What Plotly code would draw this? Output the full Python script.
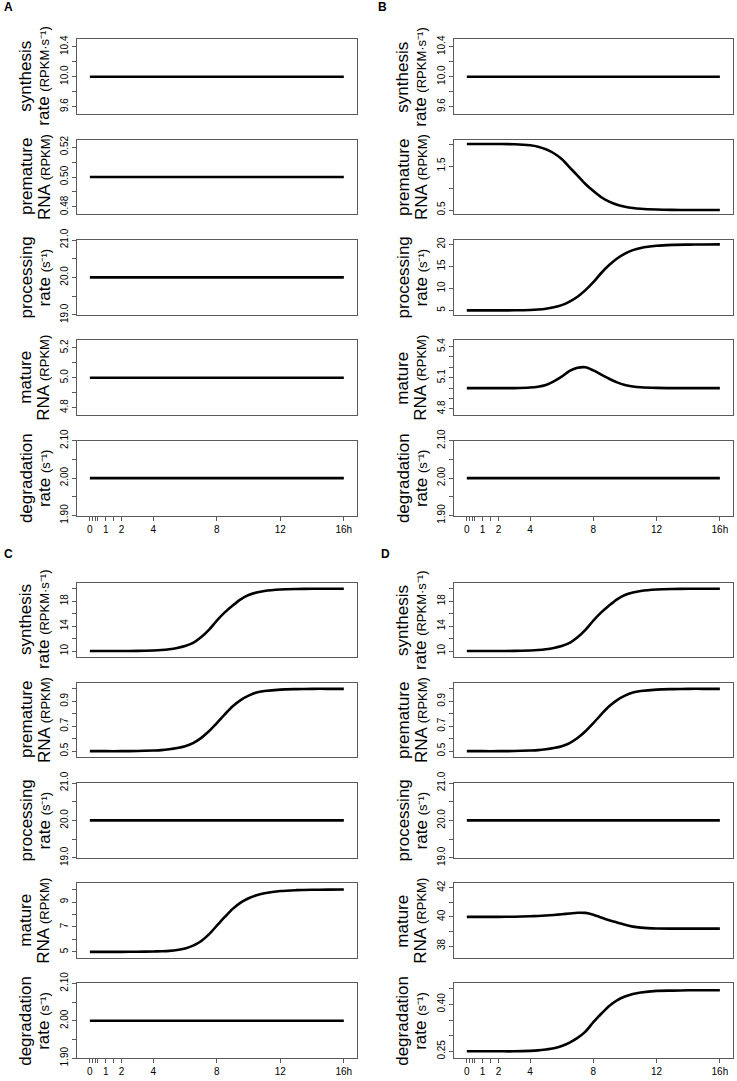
import plotly.graph_objects as go

# ---------------- data ----------------
T = [0, 1, 2, 3, 4, 4.5, 5, 5.5, 6, 6.5, 7, 7.5, 8, 8.5, 9, 9.5, 10, 10.5, 11, 12, 13, 14, 15, 16]
T_CONST = [0, 16]

synth_const = [10.0, 10.0]
premature_const = [0.5, 0.5]
processing_const = [20.0, 20.0]
mature_const = [5.0, 5.0]
degradation_const = [2.0, 2.0]

b_premature = [2.0, 2.0, 2.0, 1.995, 1.97, 1.94, 1.88, 1.79, 1.66, 1.47, 1.28, 1.09, 0.93, 0.79,
               0.69, 0.62, 0.575, 0.545, 0.527, 0.51, 0.503, 0.501, 0.5, 0.5]
b_processing = [5.0, 5.0, 5.0, 5.02, 5.1, 5.2, 5.38, 5.7, 6.2, 7.0, 8.1, 9.6, 11.4, 13.5,
                15.3, 16.8, 17.9, 18.7, 19.2, 19.7, 19.9, 19.96, 19.99, 20.0]
b_mature = [5.0, 5.0, 5.0, 5.0, 5.005, 5.013, 5.03, 5.065, 5.11, 5.165, 5.195, 5.2, 5.17, 5.13,
            5.09, 5.055, 5.03, 5.016, 5.008, 5.002, 5.0, 5.0, 5.0, 5.0]

cd_synthesis = [10.0, 10.0, 10.01, 10.03, 10.1, 10.17, 10.3, 10.5, 10.8, 11.3, 12.2, 13.4, 14.9, 16.2,
                17.3, 18.3, 19.0, 19.4, 19.65, 19.88, 19.96, 19.99, 20.0, 20.0]
cd_premature = [0.5, 0.5, 0.5, 0.501, 0.505, 0.508, 0.515, 0.525, 0.54, 0.565, 0.605, 0.66, 0.725, 0.795,
                0.86, 0.91, 0.945, 0.97, 0.982, 0.994, 0.998, 1.0, 1.0, 1.0]
c_mature = [5.0, 5.0, 5.0, 5.01, 5.03, 5.05, 5.08, 5.15, 5.28, 5.5, 5.85, 6.4, 7.1, 7.8,
            8.45, 8.95, 9.3, 9.55, 9.7, 9.88, 9.95, 9.98, 9.99, 10.0]
d_mature = [40.0, 40.0, 40.0, 40.01, 40.04, 40.06, 40.09, 40.13, 40.18, 40.23, 40.28, 40.27, 40.15, 39.95,
            39.76, 39.62, 39.45, 39.33, 39.26, 39.2, 39.19, 39.19, 39.19, 39.19]
d_degradation = [0.25, 0.25, 0.25, 0.25, 0.2515, 0.253, 0.256, 0.26, 0.267, 0.278, 0.293, 0.313, 0.343, 0.37,
                 0.395, 0.413, 0.425, 0.433, 0.438, 0.443, 0.444, 0.445, 0.445, 0.445]

# x axis: labelled ticks and unlabelled (minor) ticks
X_TICKS = [0, 1, 2, 4, 8, 12, 16]
X_TICKTEXT = ["0", "1", "2", "4", "8", "12", "16h"]
X_MINOR = [1 / 6, 1 / 3, 0.5, 1.5]

ROW_TITLES = [
    ("synthesis", "rate <span style='font-size:13px'>(RPKM·s⁻¹)</span>"),
    ("premature", "RNA <span style='font-size:13px'>(RPKM)</span>"),
    ("processing", "rate <span style='font-size:13px'>(s⁻¹)</span>"),
    ("mature", "RNA <span style='font-size:13px'>(RPKM)</span>"),
    ("degradation", "rate <span style='font-size:13px'>(s⁻¹)</span>"),
]

# y-axis specs: (range, labelled ticks, labels, unlabelled ticks)
Y_SYN_C = ([9.5, 10.5], [9.6, 10.0, 10.4], ["9.6", "10.0", "10.4"], [9.8, 10.2])
Y_PRE_C = ([0.475, 0.525], [0.48, 0.50, 0.52], ["0.48", "0.50", "0.52"], [0.49, 0.51])
Y_PRO_C = ([19.0, 21.0], [19.0, 20.0, 21.0], ["19.0", "20.0", "21.0"], [19.5, 20.5])
Y_MAT_C = ([4.75, 5.25], [4.8, 5.0, 5.2], ["4.8", "5.0", "5.2"], [4.9, 5.1])
Y_DEG_C = ([1.9, 2.1], [1.90, 2.00, 2.10], ["1.90", "2.00", "2.10"], [1.95, 2.05])
Y_B_PRE = ([0.4, 2.1], [0.5, 1.5], ["0.5", "1.5"], [1.0, 2.0])
Y_B_PRO = ([4.0, 21.0], [5, 10, 15, 20], ["5", "10", "15", "20"], [])
Y_B_MAT = ([4.74, 5.46], [4.8, 5.1, 5.4], ["4.8", "5.1", "5.4"], [4.9, 5.0, 5.2, 5.3])
Y_CD_SYN = ([9.0, 21.0], [10, 14, 18], ["10", "14", "18"], [12, 16, 20])
Y_CD_PRE = ([0.45, 1.05], [0.5, 0.7, 0.9], ["0.5", "0.7", "0.9"], [0.6, 0.8, 1.0])
Y_C_MAT = ([4.5, 10.5], [5, 7, 9], ["5", "7", "9"], [6, 8, 10])
Y_D_MAT = ([37.17, 42.3], [38, 40, 42], ["38", "40", "42"], [39, 41])
Y_D_DEG = ([0.228, 0.467], [0.25, 0.40], ["0.25", "0.40"], [0.30, 0.35, 0.45])

PANELS = {
    "A": [(T_CONST, synth_const, Y_SYN_C), (T_CONST, premature_const, Y_PRE_C),
          (T_CONST, processing_const, Y_PRO_C), (T_CONST, mature_const, Y_MAT_C),
          (T_CONST, degradation_const, Y_DEG_C)],
    "B": [(T_CONST, synth_const, Y_SYN_C), (T, b_premature, Y_B_PRE),
          (T, b_processing, Y_B_PRO), (T, b_mature, Y_B_MAT),
          (T_CONST, degradation_const, Y_DEG_C)],
    "C": [(T, cd_synthesis, Y_CD_SYN), (T, cd_premature, Y_CD_PRE),
          (T_CONST, processing_const, Y_PRO_C), (T, c_mature, Y_C_MAT),
          (T_CONST, degradation_const, Y_DEG_C)],
    "D": [(T, cd_synthesis, Y_CD_SYN), (T, cd_premature, Y_CD_PRE),
          (T_CONST, processing_const, Y_PRO_C), (T, d_mature, Y_D_MAT),
          (T, d_degradation, Y_D_DEG)],
}

# ---------------- layout geometry (pixels) ----------------
W, H = 737, 1081
COL_X = {"A": (77, 357), "B": (454, 733), "C": (77, 357), "D": (454, 733)}
ROW_TOPS = {"top": [39.3, 139.6, 240, 340.3, 440.7], "bot": [582.5, 682.6, 783, 883.3, 983.4]}
ROW_H = 74.8
HALF = {"A": "top", "B": "top", "C": "bot", "D": "bot"}
LETTER_POS = {"A": (2, 7), "B": (376, 7), "C": (2, 554), "D": (379, 554)}
X_RANGE = [-0.81, 16.83]

FONT = "Liberation Sans, Arial, sans-serif"
AXCOL = "#5a5a5a"

fig = go.Figure()
layout = dict(width=W, height=H, margin=dict(l=0, r=0, t=0, b=0, pad=0),
              paper_bgcolor="white", plot_bgcolor="white", showlegend=False,
              font=dict(family=FONT, color="black"))
annotations = []

idx = 0
for letter in ["A", "B", "C", "D"]:
    x0, x1 = COL_X[letter]
    tops = ROW_TOPS[HALF[letter]]
    for r, (xs, ys, yspec) in enumerate(PANELS[letter]):
        idx += 1
        sfx = "" if idx == 1 else str(idx)
        top = tops[r]
        dom_y = [1 - (top + ROW_H) / H, 1 - top / H]
        dom_x = [x0 / W, x1 / W]
        fig.add_trace(go.Scatter(x=xs, y=ys, mode="lines",
                                 line=dict(color="black", width=2.6, shape="spline", smoothing=0.8),
                                 xaxis="x" + sfx, yaxis="y" + sfx, hoverinfo="skip"))
        bottom = (r == 4)
        xa = dict(
            domain=dom_x, range=X_RANGE, anchor="y" + sfx,
            showline=True, mirror=True, linecolor=AXCOL, linewidth=1,
            showgrid=False, zeroline=False, automargin=False,
            tickfont=dict(size=10, family=FONT, color="black"),
        )
        if bottom:
            xa.update(tickmode="array", tickvals=X_TICKS, ticktext=X_TICKTEXT, ticks="outside",
                      ticklen=4, tickwidth=1, tickcolor=AXCOL, showticklabels=True, tickangle=0,
                      minor=dict(tickmode="array", tickvals=X_MINOR, ticks="outside", ticklen=4,
                                 tickwidth=1, tickcolor=AXCOL, showgrid=False))
        else:
            xa.update(ticks="", showticklabels=False)
        layout["xaxis" + sfx] = xa
        yr, tv, tt, tminor = yspec
        ya = dict(
            domain=dom_y, range=yr, anchor="x" + sfx,
            showline=True, mirror=True, linecolor=AXCOL, linewidth=1,
            showgrid=False, zeroline=False, automargin=False,
            tickmode="array", ticks="outside", ticklen=4, tickwidth=1, tickcolor=AXCOL,
            tickvals=tv, ticktext=tt, tickangle=-90,
            tickfont=dict(size=10, family=FONT, color="black"),
        )
        if tminor:
            ya["minor"] = dict(tickmode="array", tickvals=tminor, ticks="outside", ticklen=4,
                               tickwidth=1, tickcolor=AXCOL, showgrid=False)
        layout["yaxis" + sfx] = ya
        yc = 1 - (top + ROW_H / 2) / H
        t1, t2 = ROW_TITLES[r]
        annotations.append(dict(text=t1, x=(x0 - 51) / W, y=yc, xref="paper", yref="paper",
                                xanchor="center", yanchor="middle", textangle=-90, showarrow=False,
                                font=dict(size=17, family=FONT, color="black")))
        annotations.append(dict(text=t2, x=(x0 - 33) / W, y=yc, xref="paper", yref="paper",
                                xanchor="center", yanchor="middle", textangle=-90, showarrow=False,
                                font=dict(size=17, family=FONT, color="black")))
    lx, ly = LETTER_POS[letter]
    annotations.append(dict(text="<b>%s</b>" % letter, x=lx / W, y=1 - ly / H, xref="paper", yref="paper",
                            xanchor="left", yanchor="middle", showarrow=False,
                            font=dict(size=12, family=FONT, color="black")))

layout["annotations"] = annotations
fig.update_layout(**layout)
fig.write_html("out.html", config={"displayModeBar": False},
               post_script="document.body.style.margin='0';document.body.style.overflow='hidden';")
